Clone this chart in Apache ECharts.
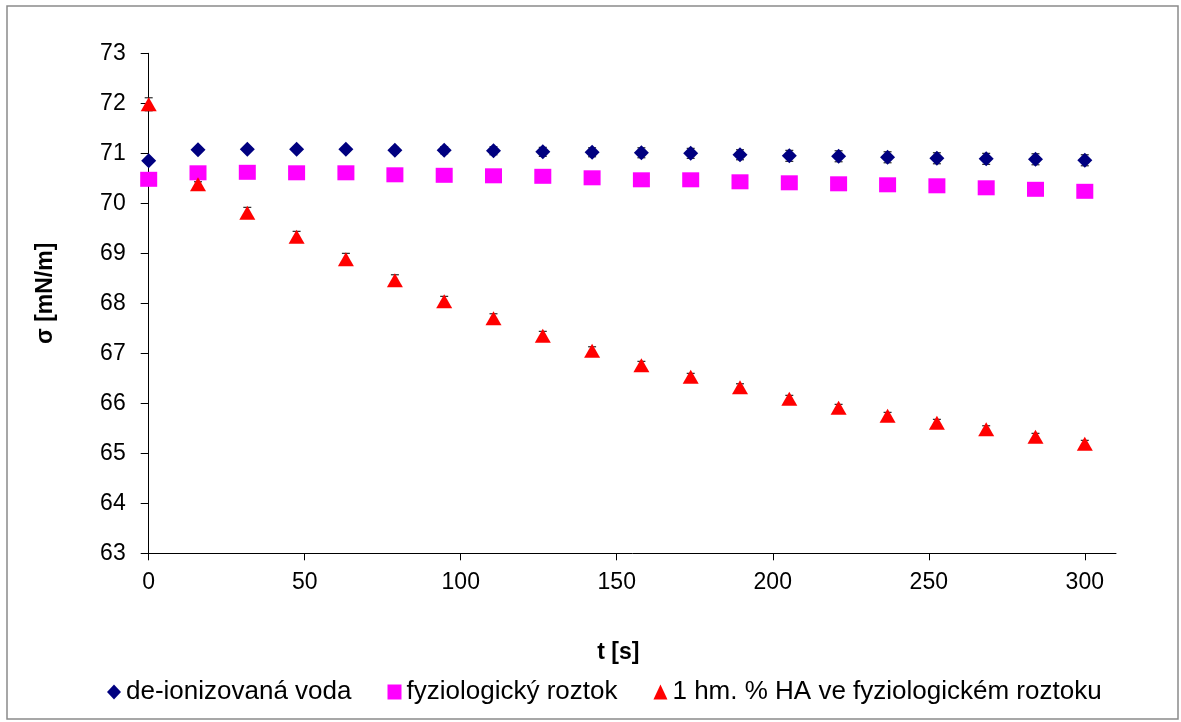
<!DOCTYPE html>
<html>
<head>
<meta charset="utf-8">
<script src="https://cdn.jsdelivr.net/npm/echarts@6/dist/echarts.min.js"></script>
<style>
  html, body { margin: 0; padding: 0; background: #fff; }
  #chart { width: 1181px; height: 722px; }
</style>
</head>
<body>
<div id="chart"></div>
<script>
// time points [s]
const tValues = [0, 15.8, 31.6, 47.4, 63.2, 78.9, 94.7, 110.5, 126.3, 142.1,
	157.9, 173.7, 189.5, 205.3, 221.1, 236.8, 252.6, 268.4, 284.2, 300];

// surface tension [mN/m]
const deionizedWater = [70.85, 71.07, 71.08, 71.08, 71.08, 71.06, 71.06, 71.05, 71.03, 71.02,
	71.01, 71.00, 70.97, 70.95, 70.94, 70.92, 70.90, 70.89, 70.88, 70.86];
const salineSolution = [70.48, 70.61, 70.62, 70.61, 70.61, 70.57, 70.56, 70.55, 70.54, 70.51,
	70.47, 70.47, 70.43, 70.41, 70.39, 70.37, 70.35, 70.31, 70.28, 70.24];
const haInSaline = [71.98, 70.38, 69.81, 69.33, 68.88, 68.46, 68.04, 67.70, 67.35, 67.05,
	66.76, 66.53, 66.32, 66.09, 65.91, 65.75, 65.61, 65.48, 65.33, 65.19];

// error bar half-widths
const deionizedErr = [0.03, 0.03, 0.04, 0.04, 0.05, 0.06, 0.07, 0.08, 0.09, 0.09,
	0.10, 0.10, 0.10, 0.11, 0.11, 0.11, 0.11, 0.11, 0.11, 0.11];
const haErr = [0.13, 0.05, 0.11, 0.11, 0.12, 0.11, 0.10, 0.09, 0.09, 0.08,
	0.08, 0.07, 0.07, 0.07, 0.07, 0.07, 0.07, 0.07, 0.07, 0.07];

const seriesNames = ['de-ionizovaná voda', 'fyziologický roztok', '1 hm. % HA ve fyziologickém roztoku'];
const xTicks = [0, 50, 100, 150, 200, 250, 300];

const FONT = "'Liberation Sans', Arial, sans-serif";

function pairs(ys) {
	return tValues.map((t, i) => [t, ys[i]]);
}

function errData(ys, errs) {
	return tValues.map((t, i) => [t, ys[i], errs[i]]);
}

function renderErrorBar(params, api) {
	const x = api.value(0), y = api.value(1), e = api.value(2);
	const top = api.coord([x, y + e]);
	const bot = api.coord([x, y - e]);
	const half = 4;
	const style = { stroke: '#000', lineWidth: 1 };
	return {
		type: 'group',
		children: [
			{ type: 'line', shape: { x1: top[0], y1: top[1], x2: bot[0], y2: bot[1] }, style: style },
			{ type: 'line', shape: { x1: top[0] - half, y1: top[1], x2: top[0] + half, y2: top[1] }, style: style },
			{ type: 'line', shape: { x1: bot[0] - half, y1: bot[1], x2: bot[0] + half, y2: bot[1] }, style: style }
		]
	};
}

const chart = echarts.init(document.getElementById('chart'));

const option = {
	animation: false,
	backgroundColor: '#fff',
	textStyle: { fontFamily: FONT },
	graphic: [{
		type: 'rect',
		shape: { x: 7, y: 6, width: 1171, height: 713 },
		style: { fill: 'none', stroke: '#8a8a8a', lineWidth: 1.5 },
		silent: true
	}],
	grid: {
		left: 148.7,
		right: 65,
		top: 53.3,
		bottom: 168.7,
		containLabel: false
	},
	legend: {
		left: 102,
		top: 674,
		itemGap: 36,
		itemWidth: 14,
		itemHeight: 15,
		textStyle: { fontSize: 26, color: '#000', fontFamily: FONT },
		data: [
			{ name: seriesNames[0], icon: 'diamond' },
			{ name: seriesNames[1], icon: 'rect' },
			{ name: seriesNames[2], icon: 'triangle' }
		]
	},
	xAxis: {
		type: 'value',
		min: 0,
		max: 310,
		interval: 50,
		name: 't [s]',
		nameLocation: 'middle',
		nameGap: 88,
		nameTextStyle: { fontSize: 23, fontWeight: 'bold', color: '#000', padding: [0, 28, 0, 0] },
		splitLine: { show: false },
		axisLine: { lineStyle: { color: '#000', width: 1 } },
		axisTick: { show: true, length: 7, inside: false, customValues: xTicks, lineStyle: { color: '#000' } },
		axisLabel: { fontSize: 23, color: '#000', margin: 18, customValues: xTicks }
	},
	yAxis: {
		type: 'value',
		min: 63,
		max: 73,
		interval: 1,
		name: 'σ [mN/m]',
		nameLocation: 'middle',
		nameGap: 92,
		nameTextStyle: { fontSize: 23, fontWeight: 'bold', color: '#000', padding: [0, 0, 0, 20] },
		splitLine: { show: false },
		axisLine: { show: true, lineStyle: { color: '#000', width: 1 } },
		axisTick: { show: true, length: 8, inside: false, lineStyle: { color: '#000' } },
		axisLabel: { fontSize: 23, color: '#000', margin: 23 }
	},
	series: [
		{
			type: 'custom',
			renderItem: renderErrorBar,
			data: errData(deionizedWater, deionizedErr),
			z: 1,
			silent: true
		},
		{
			type: 'custom',
			renderItem: renderErrorBar,
			data: errData(haInSaline, haErr),
			z: 1,
			silent: true
		},
		{
			name: seriesNames[0],
			type: 'scatter',
			symbol: 'diamond',
			symbolSize: [15, 15],
			itemStyle: { color: '#000080', opacity: 1 },
			data: pairs(deionizedWater),
			z: 3
		},
		{
			name: seriesNames[1],
			type: 'scatter',
			symbol: 'rect',
			symbolSize: [17, 15],
			itemStyle: { color: '#ff00ff', opacity: 1 },
			data: pairs(salineSolution),
			z: 3
		},
		{
			name: seriesNames[2],
			type: 'scatter',
			symbol: 'triangle',
			symbolSize: [16, 14],
			itemStyle: { color: '#ff0000', opacity: 1 },
			data: pairs(haInSaline),
			z: 3
		}
	]
};

chart.setOption(option);
</script>
</body>
</html>
